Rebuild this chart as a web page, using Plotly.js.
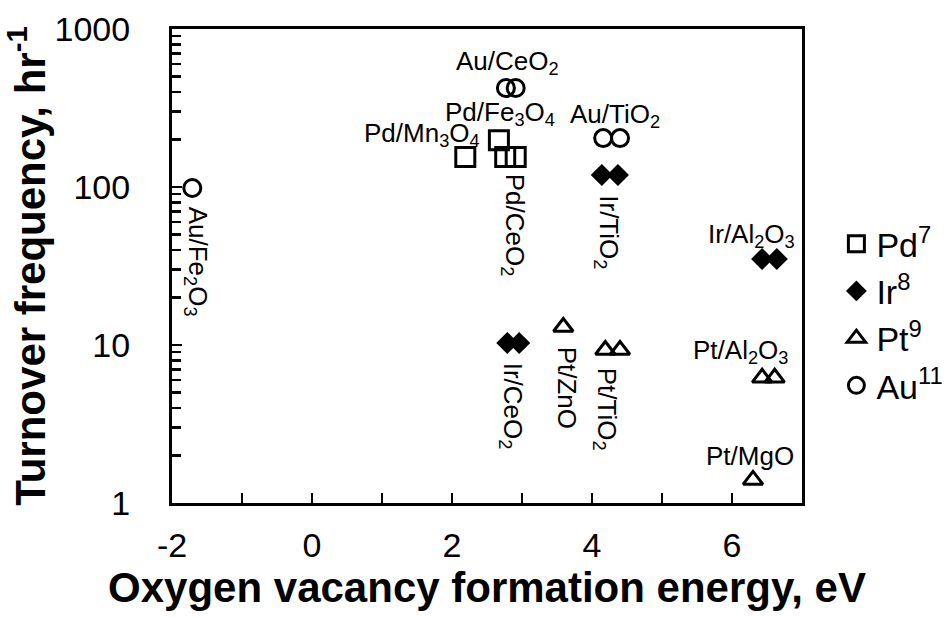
<!DOCTYPE html>
<html>
<head>
<meta charset="utf-8">
<script src="https://cdn.plot.ly/plotly-3.0.1.min.js"></script>
<style>
  html, body { margin: 0; padding: 0; background: #fff; }
  #chart { width: 944px; height: 617px; }
</style>
</head>
<body>
<div id="chart"></div>
<script>
// ---- data ----
const seriesNames = ["Pd<sup>7</sup>", "Ir<sup>8</sup>", "Pt<sup>9</sup>", "Au<sup>11</sup>"];

const pdX = [2.19, 2.67, 2.76, 2.91];
const pdY = [155, 198, 155, 155];

const irX = [4.14, 4.37, 6.43, 6.64, 2.79, 2.96];
const irY = [119, 119, 35, 35, 10.3, 10.3];

const ptX = [3.59, 4.19, 4.40, 6.43, 6.61, 6.30];
const ptY = [13, 9.3, 9.3, 6.2, 6.2, 1.4];

const auX = [2.77, 2.91, 4.16, 4.40, -1.71];
const auY = [423, 423, 204, 204, 98.6];

// labels: [text, series, point index]
const labelText = ["Au/CeO<sub>2</sub>", "Pd/Fe<sub>3</sub>O<sub>4</sub>", "Pd/Mn<sub>3</sub>O<sub>4</sub>",
  "Au/TiO<sub>2</sub>", "Pd/CeO<sub>2</sub>", "Ir/TiO<sub>2</sub>", "Ir/Al<sub>2</sub>O<sub>3</sub>",
  "Au/Fe<sub>2</sub>O<sub>3</sub>", "Ir/CeO<sub>2</sub>", "Pt/ZnO", "Pt/TiO<sub>2</sub>",
  "Pt/Al<sub>2</sub>O<sub>3</sub>", "Pt/MgO"];
const labelSeries = ["au", "pd", "pd", "au", "pd", "ir", "ir", "au", "ir", "pt", "pt", "pt", "pt"];
const labelPoint = [0, 1, 0, 2, 2, 0, 2, 4, 4, 0, 1, 3, 5];

const xTickVals = [-2, -1, 0, 1, 2, 3, 4, 5, 6, 7];
const xTickText = ["-2", "", "0", "", "2", "", "4", "", "6", ""];
const yTickVals = [1, 10, 100, 1000];
const yTickText = ["1", "10", "100", "1000"];

// ---- styling (positions/offsets for labels in px) ----
const labelShift = [[2, 26], [1, 27], [-43, 22], [12, 23], [8, -68], [6, -57], [-11, 24],
  [4, -74], [4, -63], [4, -61], [0, -59], [-22, 26], [-3, 24]];
const labelAngle = [0, 0, 0, 0, 90, 90, 0, 90, 90, 90, 90, 0, 0];

const FONT = "Arial, 'Liberation Sans', sans-serif";
const data = { pd: [pdX, pdY], ir: [irX, irY], pt: [ptX, ptY], au: [auX, auY] };

const traces = [
  { x: pdX, y: pdY, name: seriesNames[0], mode: "markers", type: "scatter",
    marker: { symbol: "square-open", size: 19, color: "#000", line: { width: 3, color: "#000" } } },
  { x: irX, y: irY, name: seriesNames[1], mode: "markers", type: "scatter",
    marker: { symbol: "diamond", size: 17, color: "#000", line: { width: 0 } } },
  { x: ptX, y: ptY, name: seriesNames[2], mode: "markers", type: "scatter",
    marker: { symbol: "triangle-up-open", size: 17, color: "#000", line: { width: 3, color: "#000" } } },
  { x: auX, y: auY, name: seriesNames[3], mode: "markers", type: "scatter",
    marker: { symbol: "circle-open", size: 17, color: "#000", line: { width: 3, color: "#000" } } }
];

const annotations = labelText.map((t, i) => {
  const d = data[labelSeries[i]];
  return {
    x: d[0][labelPoint[i]], y: Math.log10(d[1][labelPoint[i]]), xref: "x", yref: "y",
    text: t, showarrow: false, xanchor: "center", yanchor: "middle",
    xshift: labelShift[i][0], yshift: labelShift[i][1], textangle: labelAngle[i],
    font: { family: FONT, size: 26, color: "#000" }
  };
});

const minorVals = [];
[1, 10, 100].forEach(p => { for (let k = 2; k <= 9; k++) minorVals.push(k * p); });

const layout = {
  width: 944, height: 617,
  margin: { l: 172, r: 142, t: 29, b: 114 },
  paper_bgcolor: "#fff", plot_bgcolor: "#fff",
  font: { family: FONT, color: "#000" },
  showlegend: true,
  legend: {
    x: 0.886, xanchor: "left", xref: "container", y: 0.49, yanchor: "middle", yref: "container",
    font: { family: FONT, size: 34, color: "#000" },
    bgcolor: "rgba(0,0,0,0)", tracegroupgap: 0, itemwidth: 30
  },
  xaxis: {
    range: [-2, 7], tickvals: xTickVals, ticktext: xTickText,
    ticks: "inside", ticklen: 10, tickwidth: 2.5, tickcolor: "#000",
    showline: true, linewidth: 3, linecolor: "#000", mirror: true,
    showgrid: false, zeroline: false,
    tickfont: { family: FONT, size: 34, color: "#000" },
    ticklabelstandoff: 10,
    title: { text: "<b>Oxygen vacancy formation energy, eV</b>", font: { family: FONT, size: 42, color: "#000" }, standoff: 9 }
  },
  yaxis: {
    type: "log", range: [0, 3], tickvals: yTickVals, ticktext: yTickText,
    ticks: "inside", ticklen: 10, tickwidth: 2.5, tickcolor: "#000",
    minor: { tickvals: minorVals, ticks: "inside", ticklen: 9, tickwidth: 2.5, tickcolor: "#000", showgrid: false },
    showline: true, linewidth: 3, linecolor: "#000", mirror: true,
    showgrid: false, zeroline: false,
    tickfont: { family: FONT, size: 34, color: "#000" },
    ticklabelstandoff: 32,
    title: { text: "<b>Turnover frequency, hr<sup>-1</sup></b>", font: { family: FONT, size: 42, color: "#000" }, standoff: 18 }
  },
  annotations: annotations
};

Plotly.newPlot("chart", traces, layout, { displayModeBar: false, staticPlot: true });
</script>
</body>
</html>
